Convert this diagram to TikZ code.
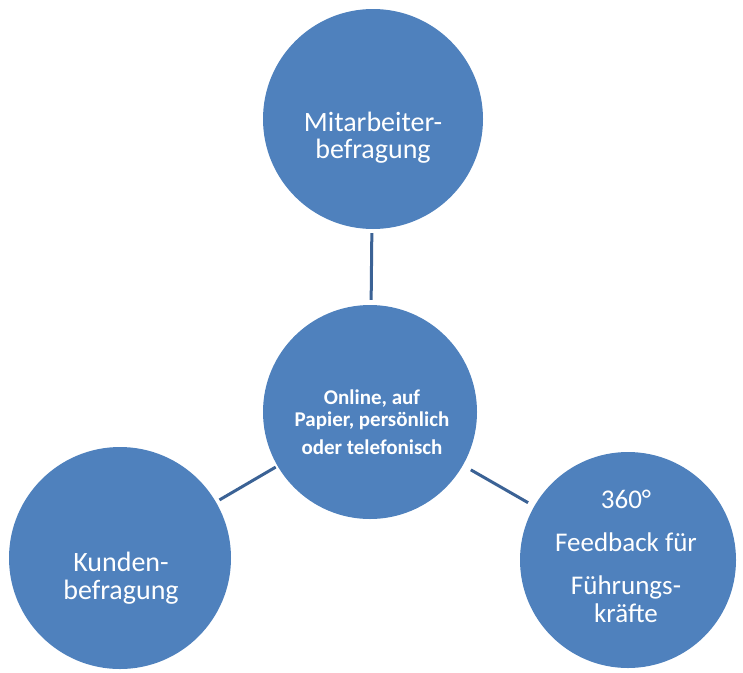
\documentclass[tikz,border=0pt]{standalone}
\usepackage{fontspec}
\setmainfont{Carlito}
\usetikzlibrary{calc}
\definecolor{bubblefill}{HTML}{4F81BD}
\definecolor{linkblue}{HTML}{3B6295}
\begin{document}
\begin{tikzpicture}[x=1pt,y=-1pt,
  bubble/.style={circle, fill=bubblefill, inner sep=0pt},
  caption/.style={text=white, align=center, inner sep=0pt, anchor=north},
  link/.style={linkblue, line width=3pt}]
\useasboundingbox (0,0) rectangle (743,672);
\node[bubble, minimum size=220pt] (mitarbeiter) at (373,119) {};
\node[bubble, minimum size=214pt] (mitte) at (370,412) {};
\node[bubble, minimum size=222pt] (kunden) at (120,558) {};
\node[bubble, minimum size=216pt] (feedback) at (628,560) {};
\draw[link, shorten <=4pt, shorten >=5pt] (mitarbeiter) -- (mitte);
\draw[link, shorten <=2pt, shorten >=4pt] (mitte) -- (kunden);
\draw[link, shorten <=9pt, shorten >=7pt] (mitte) -- (feedback);
\node[caption, font=\fontsize{28}{27}\selectfont] (mitarbeitertext) at (373,112) {Mitarbeiter-\\befragung};
\node[caption, font=\bfseries\fontsize{21}{22}\selectfont] (mittetext) at (372,390) {Online, auf\\Papier, persönlich\\[6pt]oder telefonisch};
\node[caption, font=\fontsize{28}{28}\selectfont] (kundentext) at (121,552) {Kunden-\\befragung};
\node[caption, font=\fontsize{27}{28}\selectfont] (feedbacktext) at (626,490) {360°\\[15pt]Feedback für\\[15pt]Führungs-\\kräfte};
%\draw[link] (kunden) -- (feedback);
\end{tikzpicture}
\end{document}
